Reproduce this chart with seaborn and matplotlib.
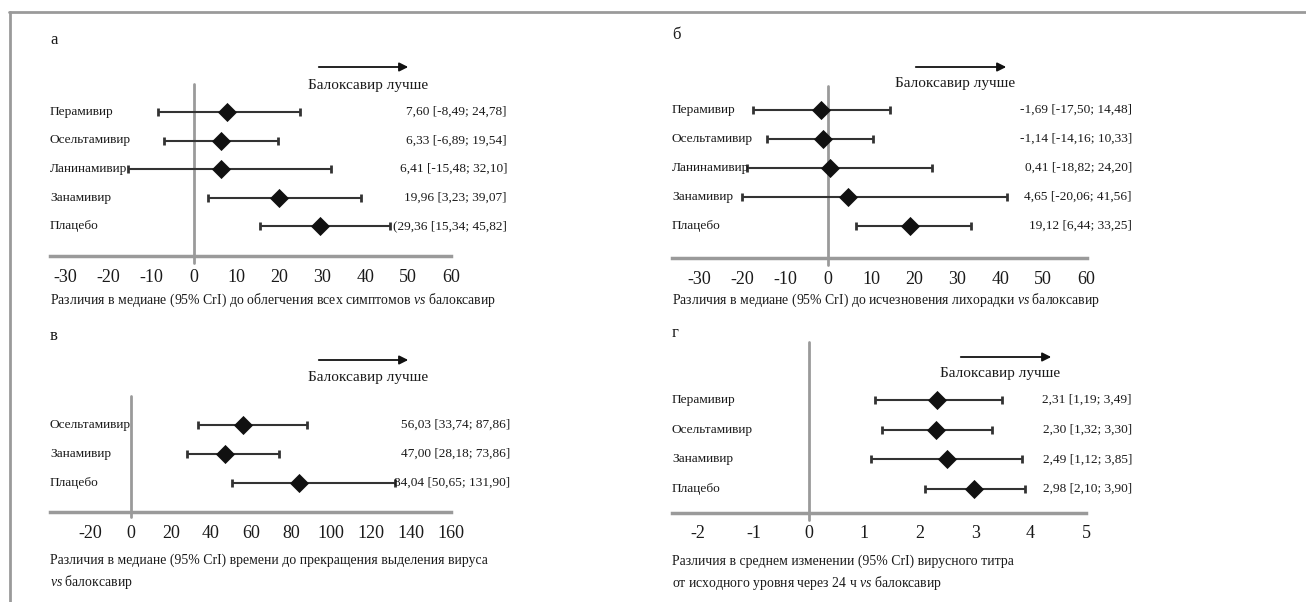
import numpy as np
import pandas as pd
import matplotlib
matplotlib.use("Agg")
import matplotlib.pyplot as plt
import matplotlib.transforms as mtransforms
from matplotlib.lines import Line2D
import seaborn as sns

# ---------------- data ----------------
drugs_a = ["Перамивир", "Осельтамивир", "Ланинамивир", "Занамивир", "Плацебо"]
med_a = [7.60, 6.33, 6.41, 19.96, 29.36]
lo_a = [-8.49, -6.89, -15.48, 3.23, 15.34]
hi_a = [24.78, 19.54, 32.10, 39.07, 45.82]
txt_a = ["7,60 [-8,49; 24,78]", "6,33 [-6,89; 19,54]", "6,41 [-15,48; 32,10]",
         "19,96 [3,23; 39,07]", "(29,36 [15,34; 45,82]"]
ticks_a = [-30, -20, -10, 0, 10, 20, 30, 40, 50, 60]

drugs_b = ["Перамивир", "Осельтамивир", "Ланинамивир", "Занамивир", "Плацебо"]
med_b = [-1.69, -1.14, 0.41, 4.65, 19.12]
lo_b = [-17.50, -14.16, -18.82, -20.06, 6.44]
hi_b = [14.48, 10.33, 24.20, 41.56, 33.25]
txt_b = ["-1,69 [-17,50; 14,48]", "-1,14 [-14,16; 10,33]", "0,41 [-18,82; 24,20]",
         "4,65 [-20,06; 41,56]", "19,12 [6,44; 33,25]"]
ticks_b = [-30, -20, -10, 0, 10, 20, 30, 40, 50, 60]

drugs_c = ["Осельтамивир", "Занамивир", "Плацебо"]
med_c = [56.03, 47.00, 84.04]
lo_c = [33.74, 28.18, 50.65]
hi_c = [87.86, 73.86, 131.90]
txt_c = ["56,03 [33,74; 87,86]", "47,00 [28,18; 73,86]", "84,04 [50,65; 131,90]"]
ticks_c = [-20, 0, 20, 40, 60, 80, 100, 120, 140, 160]

drugs_d = ["Перамивир", "Осельтамивир", "Занамивир", "Плацебо"]
med_d = [2.31, 2.30, 2.49, 2.98]
lo_d = [1.19, 1.32, 1.12, 2.10]
hi_d = [3.49, 3.30, 3.85, 3.90]
txt_d = ["2,31 [1,19; 3,49]", "2,30 [1,32; 3,30]", "2,49 [1,12; 3,85]", "2,98 [2,10; 3,90]"]
ticks_d = [-2, -1, 0, 1, 2, 3, 4, 5]

better_label = "Балоксавир лучше"
xlabel_a = ["Различия в медиане (95% CrI) до облегчения всех симптомов $\\mathit{vs}$ балоксавир"]
xlabel_b = ["Различия в медиане (95% CrI) до исчезновения лихорадки $\\mathit{vs}$ балоксавир"]
xlabel_c = ["Различия в медиане (95% CrI) времени до прекращения выделения вируса",
            "$\\mathit{vs}$ балоксавир"]
xlabel_d = ["Различия в среднем изменении (95% CrI) вирусного титра",
            "от исходного уровня через 24 ч $\\mathit{vs}$ балоксавир"]

# ---------------- style ----------------
sns.set_theme(style="white")
plt.rcParams["font.family"] = ["Liberation Serif", "DejaVu Serif"]
plt.rcParams["mathtext.fontset"] = "custom"
plt.rcParams["mathtext.it"] = "Liberation Serif:italic"
plt.rcParams["mathtext.rm"] = "Liberation Serif"

W, H = 1306, 602
fig = plt.figure(figsize=(W / 100, H / 100), dpi=100)
fig.patch.set_facecolor("white")

TXT = "#1a1a1a"
GRAY = "#9a9a9a"
BAR = "#333333"

FS_ROW = 9.6
FS_TICK = 13
FS_BETTER = 11
FS_XLAB = 9.9
FS_PANEL = 12


def fx(px):
    return px / W


def fy(py):
    return 1 - py / H


def panel(drugs, med, lo, hi, txt, ticks, xlim, box, rows_px, label, label_xy,
          arrow, better_xy, xlabels, xlabel_xy, text_right):
    left, right, top, bottom = box
    ax = fig.add_axes([fx(left), fy(bottom), fx(right - left), (bottom - top) / H])
    n = len(drugs)
    pos = np.arange(n)
    r0, r1 = rows_px
    step = (r1 - r0) / (n - 1)
    ylim_top = -(r0 - top) / step
    ylim_bot = (bottom - r0) / step
    ax.set_xlim(*xlim)
    ax.set_ylim(ylim_bot, ylim_top)

    df = pd.DataFrame({"drug": drugs, "pos": pos, "med": med, "lo": lo, "hi": hi})
    ax.errorbar(df["med"], df["pos"],
                xerr=[df["med"] - df["lo"], df["hi"] - df["med"]],
                fmt="none", ecolor=BAR, elinewidth=1.5, capsize=2.6, capthick=2.0,
                zorder=2)
    sns.scatterplot(data=df, x="med", y="pos", marker="D", s=95, color="#111111",
                    edgecolor="#111111", linewidth=0, ax=ax, zorder=3, legend=False)

    ax.axvline(0, ymin=-0.04, ymax=1, color=GRAY, lw=2, clip_on=False, zorder=1)
    for s in ["top", "right", "left"]:
        ax.spines[s].set_visible(False)
    ax.spines["bottom"].set_color(GRAY)
    ax.spines["bottom"].set_linewidth(2.5)
    ax.set_xticks(ticks)
    ax.set_xticklabels([str(t) for t in ticks], fontsize=FS_TICK, color=TXT)
    ax.tick_params(axis="x", length=0, pad=9)
    ax.set_yticks([])
    ax.set_xlabel("")
    ax.set_ylabel("")
    ax.patch.set_alpha(0)

    trans = mtransforms.blended_transform_factory(fig.transFigure, ax.transData)
    for p, d, t in zip(pos, drugs, txt):
        ax.text(fx(left), p, d, transform=trans, ha="left", va="center",
                fontsize=FS_ROW, color=TXT, clip_on=False)
        ax.text(fx(text_right), p, t, transform=trans, ha="right", va="center",
                fontsize=FS_ROW, color=TXT, clip_on=False)

    fig.text(fx(label_xy[0]), fy(label_xy[1]), label, ha="left", va="center",
             fontsize=FS_PANEL, color=TXT)
    ax0, ax1, ay = arrow
    fig.add_artist(matplotlib.patches.FancyArrowPatch(
        (fx(ax0), fy(ay)), (fx(ax1), fy(ay)), transform=fig.transFigure,
        arrowstyle="-|>", mutation_scale=13, lw=1.3, color="#111111"))
    fig.text(fx(better_xy[0]), fy(better_xy[1]), better_label, ha="center",
             va="center", fontsize=FS_BETTER, color=TXT)
    for i, xl in enumerate(xlabels):
        fig.text(fx(xlabel_xy[0]), fy(xlabel_xy[1] + 22 * i), xl, ha="left",
                 va="center", fontsize=FS_XLAB, color=TXT)
    return ax


panel(drugs_a, med_a, lo_a, hi_a, txt_a, ticks_a, (-33.6, 60.0),
      (50, 451, 84, 256), (112, 226), "а", (50, 40), (316, 411, 67), (368, 85),
      xlabel_a, (50, 300), 507)
panel(drugs_b, med_b, lo_b, hi_b, txt_b, ticks_b, (-36.3, 60.2),
      (672, 1087, 86, 258), (110, 226), "б", (672, 35), (913, 1009, 67), (955, 84),
      xlabel_b, (672, 300), 1132)
panel(drugs_c, med_c, lo_c, hi_c, txt_c, ticks_c, (-40.3, 159.5),
      (50, 451, 396, 512), (425, 483), "в", (50, 336), (316, 411, 360), (368, 377),
      xlabel_c, (50, 560), 510)
panel(drugs_d, med_d, lo_d, hi_d, txt_d, ticks_d, (-2.47, 5.0),
      (672, 1086, 342, 513), (400, 489), "г", (672, 333), (958, 1054, 357), (1000, 374),
      xlabel_d, (672, 561), 1132)

# frame
fig.add_artist(Line2D([fx(9), 1], [fy(12), fy(12)], transform=fig.transFigure,
                      color=GRAY, lw=2))
fig.add_artist(Line2D([fx(10), fx(10)], [fy(12), 0], transform=fig.transFigure,
                      color=GRAY, lw=2))

fig.savefig("out.png", dpi=100, facecolor="white")
